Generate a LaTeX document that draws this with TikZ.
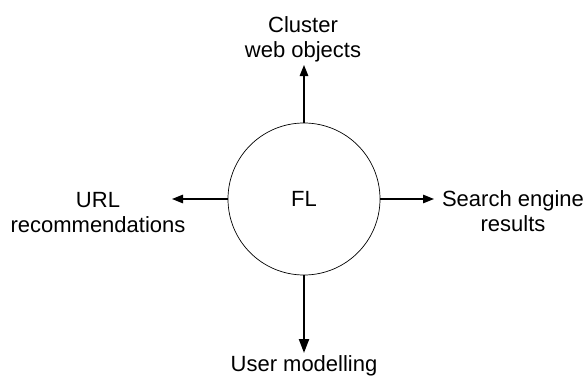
\documentclass[tikz,border=0pt]{standalone}
\usepackage{fontspec}
\setmainfont{Liberation Sans}
\usetikzlibrary{arrows.meta}
\tikzset{
  lbl/.style={anchor=base, inner sep=0pt, font=\fontsize{22}{25.5}\selectfont},
  conn/.style={line width=1.4pt, -{Triangle[length=11pt,width=8.5pt]}},
  connthick/.style={line width=2.2pt, -{Triangle[length=14pt,width=10pt]}},
}
\begin{document}
\begin{tikzpicture}[x=1pt,y=1pt]
\useasboundingbox (0,0) rectangle (587,376);
\node[circle, draw, line width=0.7pt, minimum size=152pt, inner sep=0pt] (fl) at (304,177) {};
\node[lbl] (flt) at (304,170) {FL};
\node[lbl] (top) at (303,344) {\begin{tabular}[t]{@{}c@{}}Cluster\\web objects\end{tabular}};
\node[lbl] (left) at (98,169) {\begin{tabular}[t]{@{}c@{}}URL\\recommendations\end{tabular}};
\node[lbl] (right) at (513,170) {\begin{tabular}[t]{@{}c@{}}Search engine\\results\end{tabular}};
\node[lbl] (bottom) at (304,5) {User modelling};
\coordinate (tT) at (304,311);
\coordinate (tB) at (304,23);
\coordinate (tL) at (172,177);
\coordinate (tR) at (434,177);
\draw[conn] (fl.north) -- (tT);
\draw[conn] (fl.west) -- (tL);
\draw[conn] (fl.east) -- (tR);
\draw[connthick] (fl.south) -- (tB);
\end{tikzpicture}
\end{document}
